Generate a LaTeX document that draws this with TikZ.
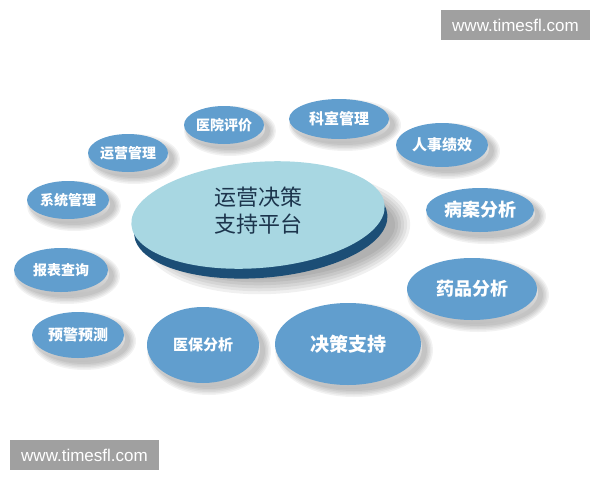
\documentclass[tikz,border=0pt]{standalone}
\usepackage{fontspec}
\usepackage{xcolor}
\usepackage{tikz}
\usetikzlibrary{positioning}
\newfontfamily\cjk{Noto Sans CJK SC}
\newfontfamily\wmfont{Liberation Sans}
\definecolor{diskblue}{RGB}{97,158,206}
\definecolor{hubcyan}{RGB}{168,215,226}
\definecolor{hubside}{RGB}{28,78,118}
\definecolor{hubtext}{RGB}{28,52,76}
\definecolor{wmgray}{RGB}{160,160,160}
\tikzset{
  disktext/.style={text=white, inner sep=0pt},
  rim/.style={top color=gray!5, bottom color=gray!50},
  wmbox/.style={fill=wmgray, text=white, minimum width=149pt, minimum height=30pt,
    inner sep=0pt, font=\wmfont\fontsize{17}{17}\selectfont}
}
\begin{document}
\begin{tikzpicture}[x=1pt,y=-1pt]
    \useasboundingbox (0,0) rectangle (600,480);

    % Platform (centre disk)
    \begin{scope}[rotate around={4.5:(258,215)}]
        \foreach \k in {0,...,5}
            \fill[black, opacity=0.06] (276,234) ellipse [x radius=118+\k*3, y radius=46+\k*3];
        \fill[hubside] (260,225) ellipse [x radius=127, y radius=53];
        \fill[hubcyan] (258,215) ellipse [x radius=127, y radius=53];
    \end{scope}
    \node[text=hubtext, align=center, inner sep=0pt, font=\cjk\fontsize{22}{27}\selectfont] (hub) at (258,211) {运营决策\\支持平台};

    % Modules (small disks)
    \foreach \x/\y/\a/\b/\s/\n/\t in {
        224/125/40/19/14/pingjia/医院评价,
        128/153/40/19/14/yunying/运营管理,
        68/200/41/19/14/xitong/系统管理,
        339/119/50/20/15/keshi/科室管理,
        442/145/46/22/15/renshi/人事绩效,
        480/210/54/22/18/bingan/病案分析,
        61/270/47/22/14/baobiao/报表查询,
        78/335/46/23/15/yujing/预警预测,
        203/345/56/38/15/yibao/医保分析,
        348/344/73/41/19/juece/决策支持,
        472/289/65/31/18/yaopin/药品分析} {
        \foreach \k in {0,...,4}
            \fill[black, opacity=0.05] (\x+6,\y+6) ellipse [x radius=\a+\k*1.5, y radius=\b+\k*1.5];
        \shade[rim] (\x+1,\y+4) ellipse [x radius=\a, y radius=\b];
        \fill[diskblue] (\x,\y) ellipse [x radius=\a, y radius=\b];
        \node[disktext, font=\cjk\bfseries\fontsize{\s}{\s}\selectfont] (\n) at (\x,\y) {\t};
    }

    % Watermarks
    \node[wmbox] (wmtop) at (515.5,25) {www.timesfl.com};
    \node[wmbox] (wmbot) at (84.5,455) {www.timesfl.com};
\end{tikzpicture}
\end{document}
